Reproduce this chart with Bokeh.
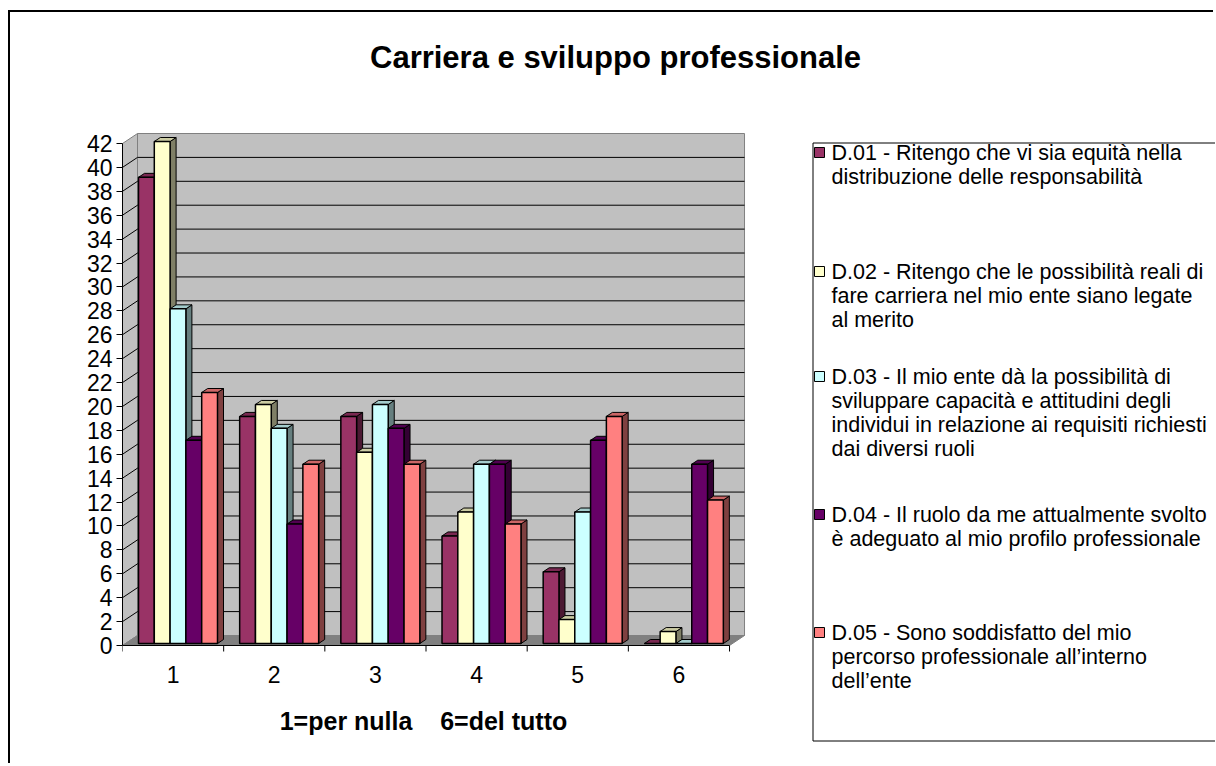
from bokeh.plotting import figure
from bokeh.models import Range1d, FixedTicker
from bokeh.embed import file_html
from bokeh.resources import INLINE
from bokeh.core.properties import value

# ---------------- data ----------------
categories = ["1", "2", "3", "4", "5", "6"]
d01 = [39, 19, 19, 9, 6, 0]
d02 = [42, 20, 16, 11, 2, 1]
d03 = [28, 18, 20, 15, 11, 0]
d04 = [17, 10, 18, 15, 17, 15]
d05 = [21, 15, 15, 10, 19, 12]
series_values = [d01, d02, d03, d04, d05]
series_colors = ["#993366", "#FFFFCC", "#CCFFFF", "#660066", "#FF8080"]
legend_lines = [
    ["D.01 - Ritengo che vi sia equità nella",
     "distribuzione delle responsabilità"],
    ["D.02 - Ritengo che le possibilità reali di",
     "fare carriera nel mio ente siano legate",
     "al merito"],
    ["D.03 - Il mio ente dà la possibilità di",
     "sviluppare capacità e attitudini degli",
     "individui in relazione ai requisiti richiesti",
     "dai diversi ruoli"],
    ["D.04 - Il ruolo da me attualmente svolto",
     "è adeguato al mio profilo professionale"],
    ["D.05 - Sono soddisfatto del mio",
     "percorso professionale all’interno",
     "dell’ente"],
]
y_ticks = list(range(0, 43, 2))
title_text = "Carriera e sviluppo professionale"
x_title = "1=per nulla\u00a0\u00a0\u00a0\u00a06=del tutto"

# ---------------- layout constants (page pixels) ----------------
FONT = "Liberation Sans"
FIG_X0, FIG_Y0 = 10, 12          # canvas origin on the page
FIG_W, FIG_H = 1205, 753
FRAME_L = 122                    # y axis position
ZERO_PY = 645                    # page y of value 0 (front)
CAT_PX = 101.17
VAL_PX = 502 / 42
DEPTH_PX = (15, 10)
INSET_PY = 2
BAR_DEPTH_PX = (6, 4)
GROUP_OFF_PX = 16
BAR_W_PX = 15.8
TICK_PX = 6
XLAB_PY, XTITLE_PX, XTITLE_PY = 674, 423, 720
TITLE_PX, TITLE_PY = 615, 57
LEG_BOX = (812.5, 142.5, 740.5)  # left, top, bottom (right side is off-screen)
LEG_SW_X, LEG_SW, LEG_TXT_X, LEG_ROW = 814, 10, 831, 24
item_first_y = [152, 271, 376, 514, 632]

U, V = CAT_PX, VAL_PX
X_START = 0.5


def px_x(px):
    return X_START + (px - FRAME_L) / U


def px_y(py):
    return (ZERO_PY - py) / V


X_END = px_x(FIG_X0 + FIG_W)
Y_START, Y_END = px_y(FIG_Y0 + FIG_H), px_y(FIG_Y0)
DX, DY = DEPTH_PX[0] / U, DEPTH_PX[1] / V
BDX, BDY = BAR_DEPTH_PX[0] / U, BAR_DEPTH_PX[1] / V
IN_DY = INSET_PY / V
GOFF = GROUP_OFF_PX / U
BW = BAR_W_PX / U
X0 = 0.5
X1 = len(categories) + 0.5
YMAX = y_ticks[-1]


def shade(hexcol, f):
    h = hexcol.lstrip("#")
    r, g, b = (int(h[i:i + 2], 16) for i in (0, 2, 4))
    return "#%02x%02x%02x" % (int(r * f), int(g * f), int(b * f))


p = figure(width=FIG_W, height=FIG_H,
           x_range=Range1d(X_START, X_END), y_range=Range1d(Y_START, Y_END),
           title=None, toolbar_location=None, output_backend="svg",
           x_axis_type=None,
           min_border_left=FRAME_L - FIG_X0, min_border_right=0,
           min_border_top=0, min_border_bottom=0,
           outline_line_color=None,
           margin=(FIG_Y0, 0, 0, FIG_X0),
           styles={"box-shadow": "-2px -2px 0 0 black"})
p.xgrid.visible = False
p.ygrid.visible = False

# title
p.text(x=[px_x(TITLE_PX)], y=[px_y(TITLE_PY)], text=[title_text],
       text_font=value(FONT), text_font_size="31px", text_font_style="bold",
       text_align="center", text_baseline="middle", text_color="black")

# walls and floor
p.quad(left=[X0 + DX], right=[X1 + DX], bottom=[DY], top=[YMAX + DY],
       fill_color="#C0C0C0", line_color="#808080", line_width=1)
p.patch([X0, X0 + DX, X0 + DX, X0], [0, DY, YMAX + DY, YMAX],
        fill_color="#C0C0C0", line_color="#808080", line_width=1)
p.patch([X0, X1, X1 + DX, X0 + DX], [0, 0, DY, DY],
        fill_color="#808080", line_color="#808080", line_width=1)
grid_vals = y_ticks[1:-1]
p.multi_line(xs=[[X0, X0 + DX, X1 + DX] for _ in grid_vals],
             ys=[[t, t + DY, t + DY] for t in grid_vals],
             line_color="black", line_width=1)

# 3D bars
for j, vals in enumerate(series_values):
    col = series_colors[j]
    xl = [i + 1 - 0.5 + GOFF + j * BW for i in range(len(categories))]
    xr = [x + BW for x in xl]
    bot = [IN_DY for _ in vals]
    tp = [v + IN_DY for v in vals]
    p.patches(xs=[[r, r + BDX, r + BDX, r] for r in xr],
              ys=[[b, b + BDY, t + BDY, t] for b, t in zip(bot, tp)],
              fill_color=shade(col, 0.5), line_color="black", line_width=1)
    p.patches(xs=[[l, r, r + BDX, l + BDX] for l, r in zip(xl, xr)],
              ys=[[t, t, t + BDY, t + BDY] for t in tp],
              fill_color=shade(col, 0.8), line_color="black", line_width=1)
    p.quad(left=xl, right=xr, bottom=bot, top=tp,
           fill_color=col, line_color="black", line_width=1.5)

# category axis (drawn through the data scales)
cat_pos = [i + 1 for i in range(len(categories))]
bounds = [c - 0.5 for c in cat_pos] + [cat_pos[-1] + 0.5]
p.segment(x0=[X0], y0=[0], x1=[X1], y1=[0], line_color="black", line_width=1)
p.segment(x0=bounds, y0=[0] * len(bounds), x1=bounds,
          y1=[-TICK_PX / V] * len(bounds), line_color="black", line_width=1)
p.text(x=cat_pos, y=[px_y(XLAB_PY)] * len(cat_pos), text=categories,
       text_font=value(FONT), text_font_size="23px", text_align="center",
       text_baseline="middle", text_color="black")
p.text(x=[px_x(XTITLE_PX)], y=[px_y(XTITLE_PY)], text=[x_title],
       text_font=value(FONT), text_font_size="25px", text_font_style="bold",
       text_align="center", text_baseline="middle", text_color="black")

# value axis
p.yaxis.ticker = FixedTicker(ticks=y_ticks, minor_ticks=[])
p.yaxis.bounds = (0, YMAX)
p.yaxis.axis_line_color = "black"
p.yaxis.major_tick_out = TICK_PX
p.yaxis.major_tick_in = 0
p.yaxis.minor_tick_out = 0
p.yaxis.minor_tick_in = 0
p.yaxis.major_label_standoff = 4
p.yaxis.major_label_text_font = FONT
p.yaxis.major_label_text_font_size = "23px"
p.yaxis.major_label_text_color = "black"

# legend (box open to the right: its right side lies beyond the picture)
bl, bt, bb = LEG_BOX
far = px_x(FIG_X0 + FIG_W + 20)
p.segment(x0=[px_x(bl), px_x(bl)], y0=[px_y(bt), px_y(bb)],
          x1=[far, far], y1=[px_y(bt), px_y(bb)],
          line_color="black", line_width=1)
p.segment(x0=[px_x(bl)], y0=[px_y(bt)], x1=[px_x(bl)], y1=[px_y(bb)],
          line_color="black", line_width=1)
p.quad(left=[px_x(LEG_SW_X)] * len(item_first_y),
       right=[px_x(LEG_SW_X + LEG_SW)] * len(item_first_y),
       top=[px_y(y - LEG_SW / 2) for y in item_first_y],
       bottom=[px_y(y + LEG_SW / 2) for y in item_first_y],
       fill_color=series_colors, line_color="black", line_width=1)
tx, ty, tt = [], [], []
for y0, lines in zip(item_first_y, legend_lines):
    for k, line in enumerate(lines):
        tx.append(px_x(LEG_TXT_X))
        ty.append(px_y(y0 + k * LEG_ROW))
        tt.append(line)
p.text(x=tx, y=ty, text=tt, text_font=value(FONT), text_font_size="21.5px",
       text_align="left", text_baseline="middle", text_color="black")

open("out.html", "w").write(file_html(p, INLINE))
